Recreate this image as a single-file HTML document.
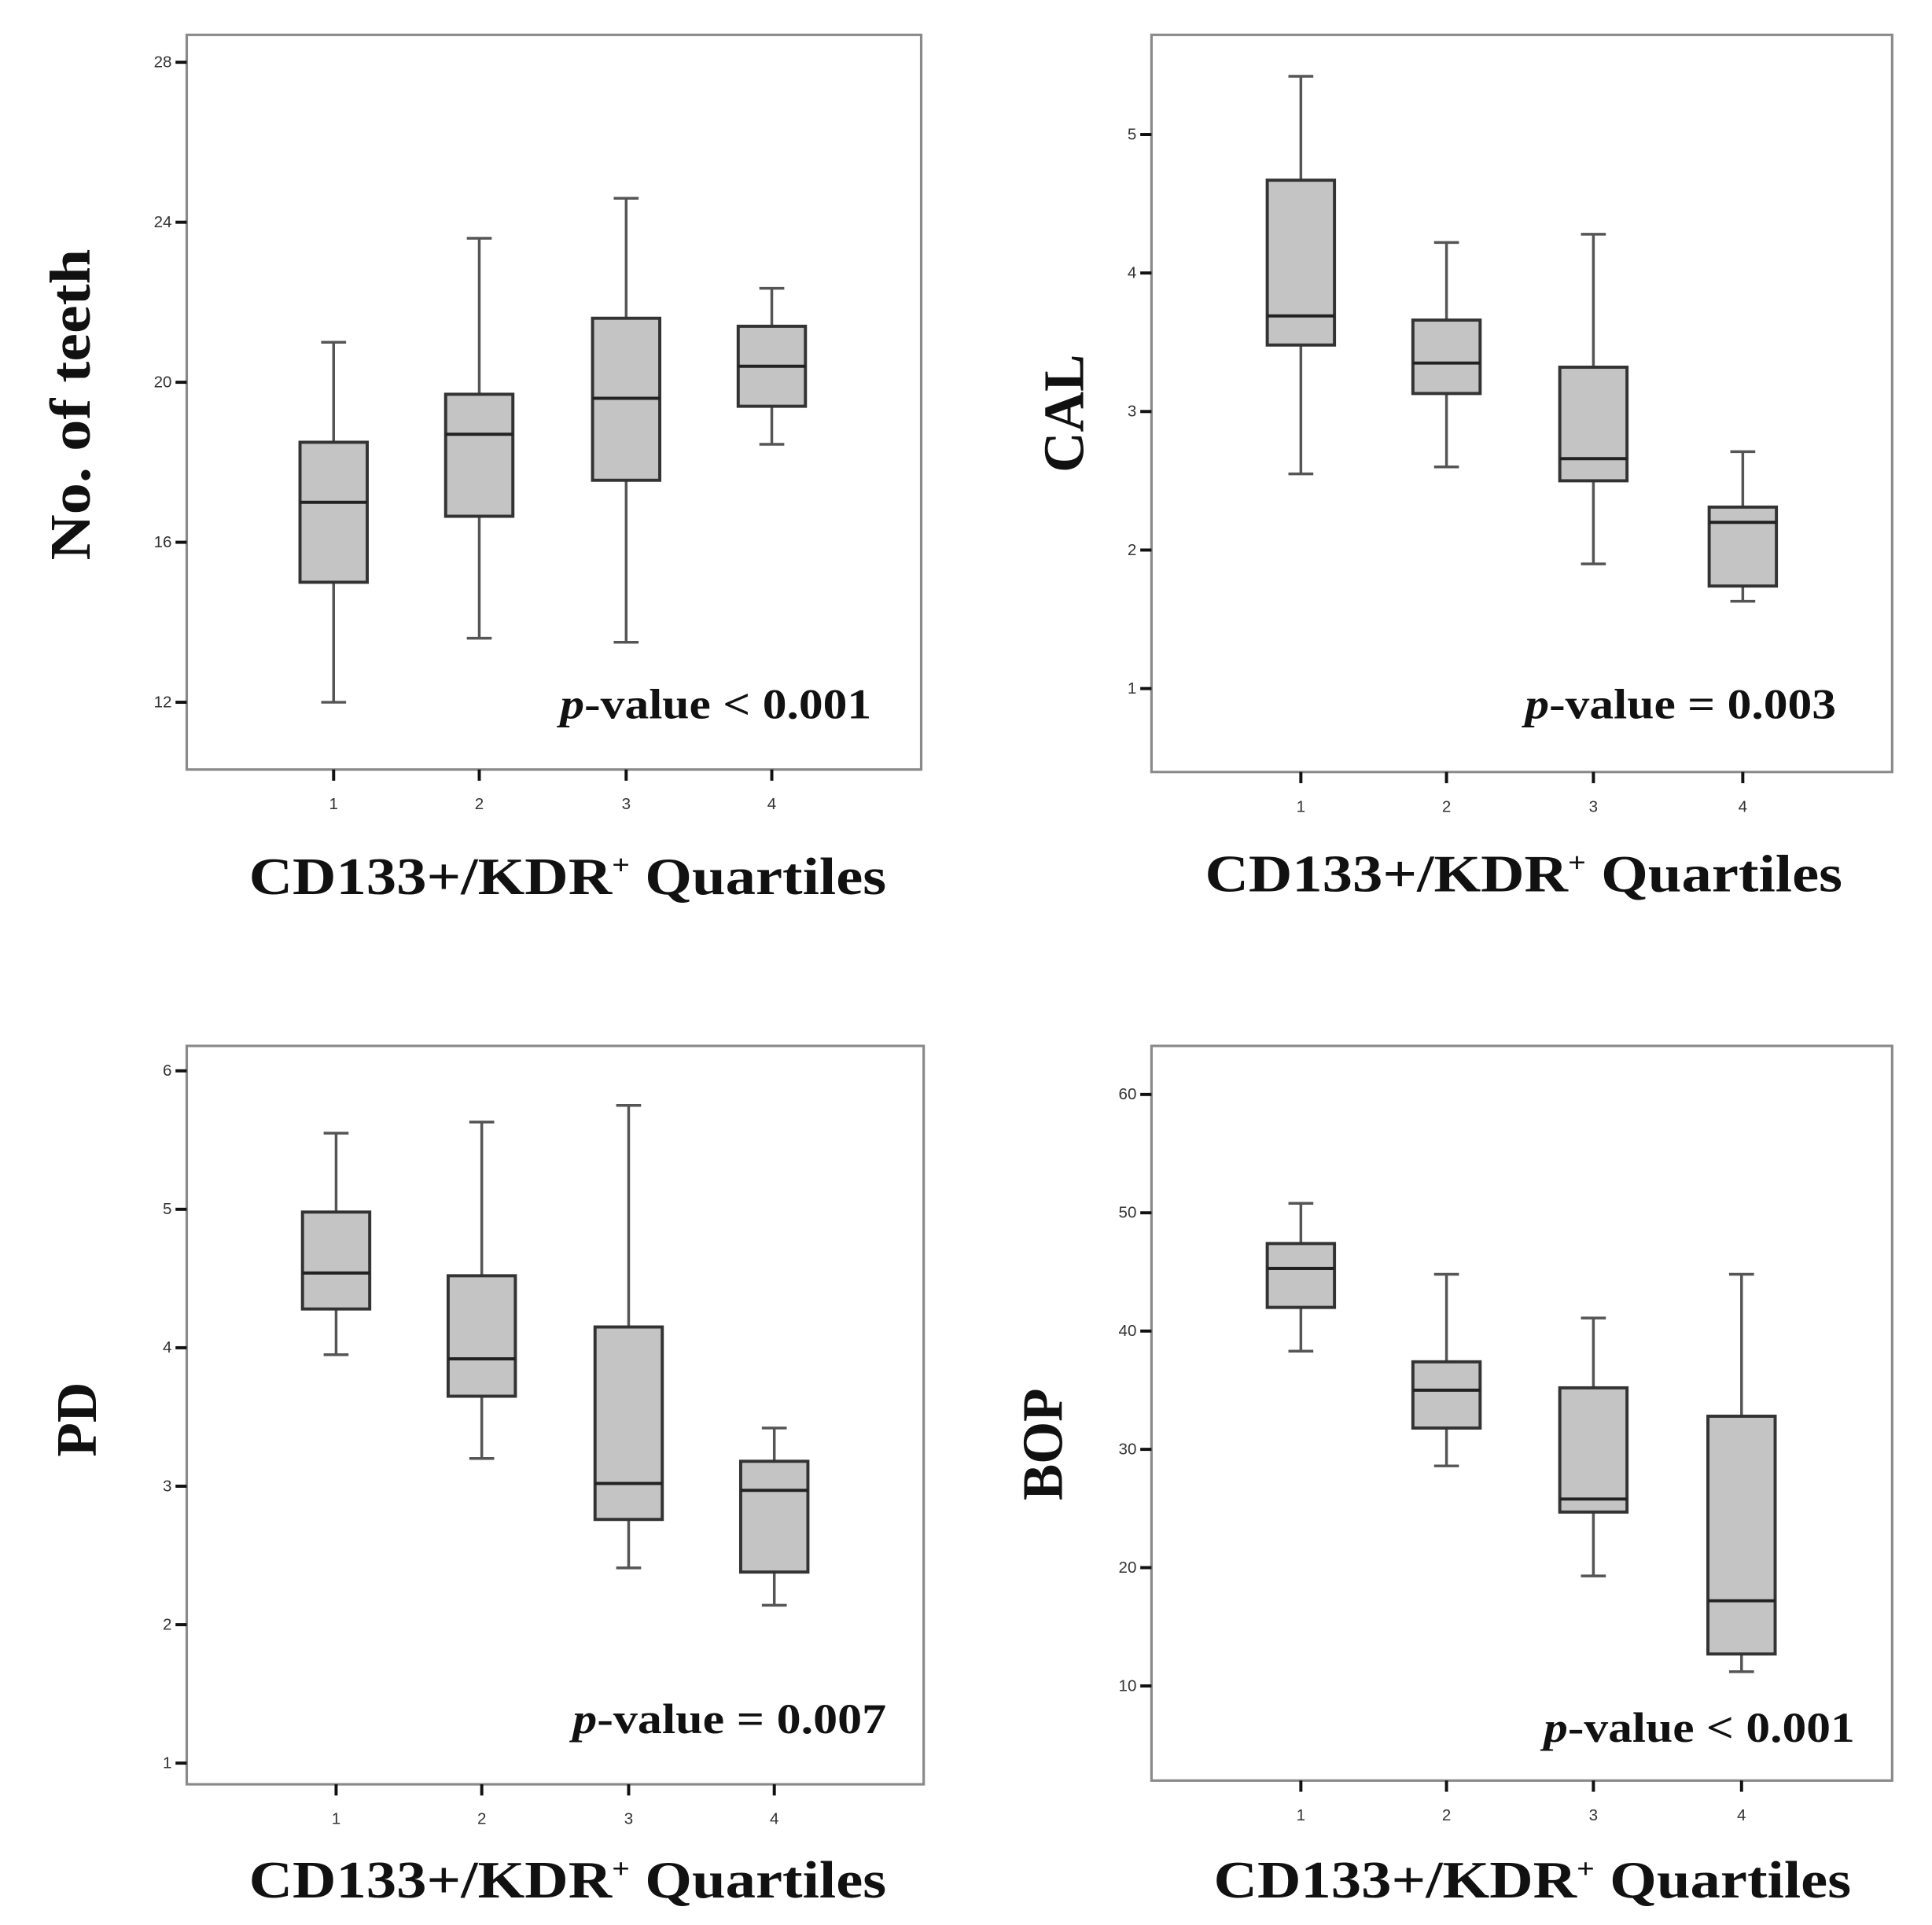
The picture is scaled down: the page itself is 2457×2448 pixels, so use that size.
<!DOCTYPE html>
<html><head><meta charset="utf-8"><style>
html,body{margin:0;padding:0;background:#fff;}
svg{display:block;}
</style></head><body>
<svg id="fig" width="2457" height="2448" viewBox="0 0 1552 1546" preserveAspectRatio="none" xmlns="http://www.w3.org/2000/svg"></svg>
<script>
const categories = ["1","2","3","4"];
// panel 1: No. of teeth
const teethMin = [12, 13.6, 13.5, 18.45];
const teethQ1 = [15, 16.65, 17.55, 19.4];
const teethMed = [17, 18.7, 19.6, 20.4];
const teethQ3 = [18.5, 19.7, 21.6, 21.4];
const teethMax = [21, 23.6, 24.6, 22.35];
const teethTicks = [12, 16, 20, 24, 28];
// panel 2: CAL
const calMin = [2.55, 2.6, 1.9, 1.63];
const calQ1 = [3.48, 3.13, 2.5, 1.74];
const calMed = [3.69, 3.35, 2.66, 2.2];
const calQ3 = [4.67, 3.66, 3.32, 2.31];
const calMax = [5.42, 4.22, 4.28, 2.71];
const calTicks = [1, 2, 3, 4, 5];
// panel 3: PD
const pdMin = [3.95, 3.2, 2.41, 2.14];
const pdQ1 = [4.28, 3.65, 2.76, 2.38];
const pdMed = [4.54, 3.92, 3.02, 2.97];
const pdQ3 = [4.98, 4.52, 4.15, 3.18];
const pdMax = [5.55, 5.63, 5.75, 3.42];
const pdTicks = [1, 2, 3, 4, 5, 6];
// panel 4: BOP
const bopMin = [38.3, 28.6, 19.3, 11.2];
const bopQ1 = [42, 31.8, 24.7, 12.7];
const bopMed = [45.3, 35, 25.8, 17.2];
const bopQ3 = [47.4, 37.4, 35.2, 32.8];
const bopMax = [50.8, 44.8, 41.1, 44.8];
const bopTicks = [10, 20, 30, 40, 50, 60];

const NS = "http://www.w3.org/2000/svg";
const svg = document.getElementById("fig");
function mk(tag, attrs, parent, text) {
  const e = document.createElementNS(NS, tag);
  for (const k in attrs) e.setAttribute(k, attrs[k]);
  if (text !== undefined) e.textContent = text;
  (parent || svg).appendChild(e);
  return e;
}

const panels = [
  {name:"teeth", x0:150, x1:740, y0:28, y1:618, v0:28, p0:50, v1:12, p1:564, xs:[268,385,503,620],
   mins:teethMin, q1:teethQ1, med:teethMed, q3:teethQ3, maxs:teethMax, ticks:teethTicks,
   ytitle:"No. of teeth", ytx:57, yty:325, ytl:250, ptxt:"-value < 0.001", px:450, py:577, pl:250, xtx:200, xty:718},
  {name:"cal", x0:925, x1:1520, y0:28, y1:620, v0:5, p0:108, v1:1, p1:553, xs:[1045,1162,1280,1400],
   mins:calMin, q1:calQ1, med:calMed, q3:calQ3, maxs:calMax, ticks:calTicks,
   ytitle:"CAL", ytx:855, yty:332, ytl:95, ptxt:"-value = 0.003", px:1225, py:577, pl:250, xtx:968, xty:716},
  {name:"pd", x0:150, x1:742, y0:840, y1:1433, v0:6, p0:860, v1:1, p1:1416, xs:[270,387,505,622],
   mins:pdMin, q1:pdQ1, med:pdMed, q3:pdQ3, maxs:pdMax, ticks:pdTicks,
   ytitle:"PD", ytx:62, yty:1140, ytl:60, ptxt:"-value = 0.007", px:460, py:1392, pl:252, xtx:200, xty:1524},
  {name:"bop", x0:925, x1:1520, y0:840, y1:1430, v0:60, p0:879, v1:10, p1:1354, xs:[1045,1162,1280,1399],
   mins:bopMin, q1:bopQ1, med:bopMed, q3:bopQ3, maxs:bopMax, ticks:bopTicks,
   ytitle:"BOP", ytx:838, yty:1160, ytl:90, ptxt:"-value < 0.001", px:1240, py:1399, pl:250, xtx:975, xty:1524}
];

panels.forEach(P => {
  const y = v => P.p0 + (v - P.v0) * (P.p1 - P.p0) / (P.v1 - P.v0);
  const g = mk("g", {});
  
  
  const frame = mk("rect", {x:P.x0, y:P.y0, width:P.x1-P.x0, height:P.y1-P.y0, fill:"none", stroke:"#8a8a8a", "stroke-width":2}, g);
  
  
  P.ticks.forEach(t => {
    const tk = mk("line", {x1:P.x0-9, x2:P.x0, y1:y(t), y2:y(t), stroke:"#111", "stroke-width":2.5}, g);
    
    
    const tl = mk("text", {x:P.x0-12, y:y(t)+4, "text-anchor":"end", "font-family":"Liberation Sans, sans-serif", "font-size":13, fill:"#333"}, g, String(t));
    
    
  });
  categories.forEach((c, i) => {
    const cx = P.xs[i];
    const tk = mk("line", {x1:cx, x2:cx, y1:P.y1, y2:P.y1+9, stroke:"#111", "stroke-width":2.5}, g);
    
    
    const tl = mk("text", {x:cx, y:P.y1+32, "text-anchor":"middle", "font-family":"Liberation Sans, sans-serif", "font-size":13, fill:"#333"}, g, c);
    
    
    const bw = 27, cw = 10;
    const w = mk("line", {x1:cx, x2:cx, y1:y(P.maxs[i]), y2:y(P.mins[i]), stroke:"#555", "stroke-width":2.2}, g);
    
    
    [P.maxs[i], P.mins[i]].forEach(v => {
      const cap = mk("line", {x1:cx-cw, x2:cx+cw, y1:y(v), y2:y(v), stroke:"#555", "stroke-width":2.2}, g);
      
      
    });
    const b = mk("rect", {x:cx-bw, y:y(P.q3[i]), width:2*bw, height:y(P.q1[i])-y(P.q3[i]), fill:"#c4c4c4", stroke:"#333", "stroke-width":2.5}, g);
    
    
    const m = mk("line", {x1:cx-bw, x2:cx+bw, y1:y(P.med[i]), y2:y(P.med[i]), stroke:"#222", "stroke-width":2.5}, g);
    
    
  });
  const pt = mk("text", {x:P.px, y:P.py, "font-family":"Liberation Serif, serif", "font-size":34, "font-weight":"bold", fill:"#111", textLength:P.pl, lengthAdjust:"spacingAndGlyphs"}, g);
  
  
  mk("tspan", {"font-style":"italic"}, pt, "p");
  mk("tspan", {}, pt, P.ptxt);
  const xt = mk("text", {x:P.xtx, y:P.xty, "font-family":"Liberation Serif, serif", "font-size":42, "font-weight":"bold", fill:"#111", textLength:512, lengthAdjust:"spacingAndGlyphs"}, g);
  
  
  mk("tspan", {}, xt, "CD133+/KDR");
  mk("tspan", {"font-size":22, dy:-16}, xt, "+");
  mk("tspan", {dy:16}, xt, " Quartiles");
  const yt = mk("text", {x:0, y:0, "text-anchor":"middle", "font-family":"Liberation Serif, serif", "font-size":46, "font-weight":"bold", fill:"#111", textLength:P.ytl, lengthAdjust:"spacingAndGlyphs", transform:"translate(" + (P.ytx+15) + "," + P.yty + ") rotate(-90)"}, g, P.ytitle);
  
  
});
</script>
</body></html>
